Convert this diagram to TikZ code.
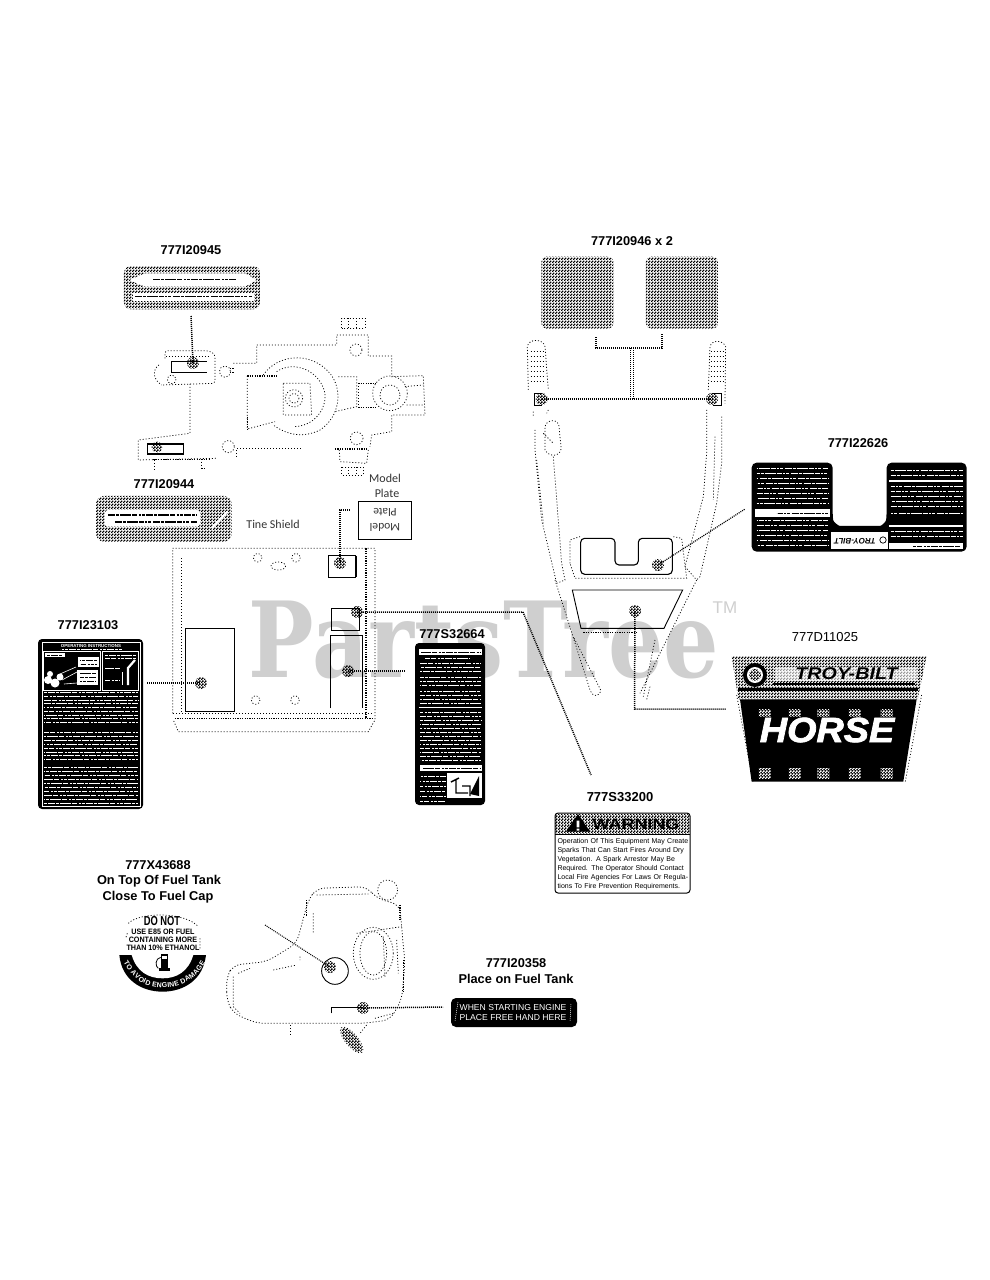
\documentclass[tikz,border=0pt]{standalone}
\usepackage{fontspec}
\setmainfont{Liberation Sans}
\newfontfamily\carl{Carlito}
\newfontfamily\wmfont{DejaVu Serif}
\newfontfamily\hvy[UprightFont=* Bold Italic,FakeBold=2]{Liberation Sans}
\usetikzlibrary{patterns,decorations.text}
\pgfdeclarepatternformonly{checker}{\pgfqpoint{0pt}{0pt}}{\pgfqpoint{3pt}{3pt}}{\pgfqpoint{3pt}{3pt}}{%
  \pgfpathrectangle{\pgfqpoint{0pt}{0pt}}{\pgfqpoint{1.75pt}{1.75pt}}%
  \pgfpathrectangle{\pgfqpoint{1.5pt}{1.5pt}}{\pgfqpoint{1.75pt}{1.75pt}}%
  \pgfusepath{fill}}
\newcommand{\greeklines}[4][greek]{% style, x1, x2, list of y
  \foreach \yy in {#4} {\pgfmathsetmacro{\ph}{mod(\yy*7,37)}\draw[#1,dash phase=\ph pt] (#2,\yy) -- (#3,\yy);}}
\tikzset{
  zA/.style={shift={(90pt,-230pt)},x=0.3333pt,y=-0.3333pt},
  zB/.style={shift={(30pt,-530pt)},x=0.3333pt,y=-0.3333pt},
  zC/.style={shift={(500pt,-230pt)},x=0.3333pt,y=-0.3333pt},
  zD/.style={shift={(540pt,-580pt)},x=0.3333pt,y=-0.3333pt},
  zE/.style={shift={(90pt,-850pt)},x=0.3333pt,y=-0.3333pt},
  partno/.style={font=\bfseries\fontsize{12.8}{14}\selectfont,inner sep=0pt},
  plainlab/.style={font=\carl\fontsize{12}{14}\selectfont,text=black!80,inner sep=0pt},
  hdot/.style={circle,minimum size=12pt,inner sep=0pt,pattern=checker},
  conn/.style={line width=1.5pt,dash pattern=on 1pt off 1pt},
  dline/.style={line width=0.75pt,dash pattern=on 1pt off 2pt},
  dthick/.style={line width=1.2pt,dash pattern=on 1.2pt off 1.2pt},
  solid1/.style={line width=0.9pt},
  greek/.style={white,line width=0.8pt,dash pattern=on 7pt off 1pt on 3pt off 1pt on 11pt off 1pt on 5pt off 1.5pt on 2pt off 1pt on 3pt off 1.5pt},
  greekk/.style={black,line width=0.9pt,dash pattern=on 7pt off 1pt on 3pt off 1pt on 11pt off 1pt on 5pt off 1.5pt on 2pt off 1pt on 3pt off 1.5pt},
}
\begin{document}
\begin{tikzpicture}[x=1pt,y=-1pt]
\useasboundingbox (0,0) rectangle (989,1280);
\fill[white] (0,0) rectangle (989,1280);
% watermark
\node[font=\wmfont\bfseries\fontsize{105}{105}\selectfont,text=black!19,inner sep=0pt,xscale=0.83] (wm) at (484,640) {PartsTree};
\node[font=\fontsize{17}{17}\selectfont,text=black!19,inner sep=0pt] (tm) at (725,608) {TM};

% ---------- 777I20945
\node[partno] (p45) at (191,250) {777I20945};
\begin{scope}[zA]
\fill[pattern=checker,rounded corners=7pt] (102,108) rectangle (510,238);
\fill[white] (118,150) -- (165,130) -- (465,130) -- (500,150) -- (465,170) -- (165,170) -- cycle;
\fill[white] (128,188) rectangle (492,212);
\draw[greekk,line width=1pt] (190,150) -- (440,150);
\draw[greekk,line width=1.6pt] (135,200) -- (485,200);
% left bracket
\draw[dline,rounded corners=3pt] (225,385) -- (225,362) -- (355,362) -- (375,372) -- (375,460) -- (215,465);
\draw[dline] (228,380) -- (358,380);
\draw[dline] (207,405) .. controls (185,420) and (190,450) .. (215,465);
\draw[dline] (245,448) circle (13);
\draw[solid1] (350,393) -- (245,393) -- (245,428) -- (350,428);
\draw[dline] (405,425) circle (17);
\draw[dthick] (420,415) -- (432,415) (420,428) -- (432,428);
% body outline
\draw[dline] (430,400) -- (500,400) -- (500,345) -- (740,345) -- (740,315) -- (835,315) -- (835,378) -- (905,378) -- (905,440) -- (1000,437) -- (1005,555) -- (905,555) -- (905,605) -- (845,615) -- (840,650);
\draw[dline] (755,295) -- (755,265) -- (825,265) -- (825,295) -- cycle;
\draw[dline] (775,265) -- (775,295) (800,265) -- (800,295);
\draw[dline] (798,360) circle (18);
\draw[dline] (300,462) -- (300,610) -- (145,630) -- (145,690) -- (380,685);
\draw[dthick] (190,688) -- (360,688);
\draw[line width=1.2pt] (280,642) -- (172,642) -- (172,672) -- (280,672) -- cycle;
\draw[line width=1.6pt] (172,642) -- (172,672) -- (200,672);
\draw[dline] (193,690) -- (193,720) (335,695) -- (335,715) -- (345,715);
\draw[dline] (415,650) circle (18);
\draw[dline] (440,680) -- (440,655) -- (640,655);
% main plate and arcs
\draw[dthick] (472,438) -- (560,438);
\draw[dline] (472,438) -- (472,597) -- (555,575);
\draw[dthick] (472,560) -- (472,597);
\draw[dline] (520,435) .. controls (560,375) and (660,360) .. (720,430) .. controls (760,480) and (750,560) .. (690,600) .. controls (640,625) and (590,615) .. (550,585);
\draw[dline] (560,425) .. controls (610,390) and (690,420) .. (705,490) .. controls (710,540) and (670,590) .. (610,590);
\draw[dline] (580,460) -- (660,460) -- (665,555) -- (580,555) -- cycle;
\draw[dline] (612,505) circle (26);
\draw[dline] (612,505) circle (15);
\draw[dline] (745,440) -- (800,440) -- (800,530) -- (735,545);
\draw[dthick] (805,460) -- (860,460) (805,532) -- (860,532);
\draw[dline] (805,460) -- (805,532);
\draw[dline] (900,490) circle (52);
\draw[dline] (900,495) circle (30);
\draw[dline] (945,470) -- (1000,465) (950,525) -- (1000,525);
\draw[dline] (800,625) circle (19);
\draw[dthick] (735,657) -- (835,657);
\draw[dline] (748,660) -- (750,695) -- (830,700) -- (835,660);
\draw[dline] (755,712) rectangle (820,735);
\draw[dline] (775,712) -- (775,735) (800,712) -- (800,735);
% 777I20944 label
\fill[pattern=checker,rounded corners=8pt] (18,798) rectangle (425,935);
\fill[white,rounded corners=3pt] (45,840) rectangle (330,890);
\draw[greekk,line width=2pt] (55,855) -- (320,855);
\draw[greekk,line width=2pt] (75,875) -- (320,875);
\draw[white,line width=2pt] (365,895) -- (412,845);
\end{scope}
\node[hdot] (d45) at (193,363) {};
\coordinate (e45) at (191,316);
\draw[conn] (e45) -- (d45.center);
\node[hdot,minimum size=11pt] (d45b) at (157,447) {};
\node[partno] (p44) at (164,484) {777I20944};
\node[plainlab] (tine) at (273,524) {Tine Shield};
\node[plainlab] (mp1) at (385,478) {Model};
\node[plainlab] (mp2) at (387,493) {Plate};
\node[draw=black,line width=0.8pt,minimum width=53pt,minimum height=38pt,inner sep=0pt] (mbox) at (385,520) {};
\node[plainlab,rotate=180,align=center,font=\carl\fontsize{11.5}{15}\selectfont] (mtxt) at (385,520) {Model\\Plate};

% ---------- Tine shield
\begin{scope}[zB]
\draw[dline] (428,550) -- (428,55) -- (1035,55) -- (1035,570) -- (1015,605) -- (445,605) -- (430,570);
\draw[dline] (455,85) -- (455,550);
\draw[dthick] (1008,55) -- (1008,565);
\draw[dthick] (435,565) -- (1030,565);
\draw[dline] (430,550) -- (1030,550);
\foreach \bx/\by in {683/83,798/83,677/510,795/510} {\draw[dline] (\bx,\by) circle (13);}
\draw[dline] (745,108) ellipse (22 and 12);
\draw[solid1] (978,77) -- (895,77) -- (895,142) -- (978,142);
\draw[line width=1.3pt] (978,77) -- (978,142);
\draw[solid1] (905,235) rectangle (988,300);
\draw[line width=1.5pt] (905,235) -- (965,235);
\draw[solid1] (901,535) -- (901,317) -- (998,317);
\draw[line width=1.5pt] (998,317) -- (998,535);
\draw[solid1] (467,295) rectangle (613,545);
\end{scope}
\node[hdot] (dmp) at (340,563) {};
\coordinate (emp) at (350,510);
\draw[conn] (dmp.center) -- (340,510) -- (emp);
\node[hdot] (d103) at (201,683) {};
\coordinate (e103) at (147,683);
\draw[conn] (e103) -- (d103.center);
\node[hdot] (d664) at (348,671) {};
\coordinate (e664) at (406,671);
\draw[conn] (d664.center) -- (e664);
\node[hdot] (d200) at (357,612) {};
\coordinate (e200) at (591,775);
\draw[conn] (d200.center) -- (523,612) -- (e200);

% ---------- 777I23103
\node[partno] (p03) at (88,625) {777I23103};
\node[fill=black,rounded corners=4pt,minimum width=105pt,minimum height=170pt,inner sep=0pt] (l03) at (90.5,724) {};
\draw[white,line width=0.7pt] (42.5,642.5) rectangle (140,806.5);
\node[text=white,font=\bfseries\fontsize{4.4}{5}\selectfont,inner sep=0pt] (l03t) at (91,645.5) {OPERATING INSTRUCTIONS};
\greeklines[greek,line width=0.5pt]{60}{122}{649}
\draw[white,line width=0.7pt] (43.3,651.7) rectangle (100.7,690);
\draw[white,line width=0.7pt] (102.3,651.7) rectangle (138.3,690);
\fill[white] (45,653) rectangle (65,657);
\greeklines[greekk,line width=0.7pt]{47}{63}{655}
\fill[white] (77.7,656.7) rectangle (99,666.7);
\greeklines[greekk,line width=0.7pt]{80}{97}{660,664}
\fill[white] (48,680) circle (4pt) (55,683) circle (4.5pt) (60,677) circle (3.5pt) (50,674) circle (3pt);
\fill[white] (76.7,670) rectangle (98.3,685);
\greeklines[greekk,line width=0.7pt]{80}{96}{673,677,681}
\draw[white,line width=0.6pt] (60,674) -- (76,667) (62,680) -- (77,672) (64,684) -- (77,683);
\greeklines[greek,line width=0.6pt]{105}{136}{655,658}
\draw[white,line width=2.2pt] (128,685) -- (128,668) -- (135,660);
\draw[white,line width=0.8pt] (122,672) -- (122,685);
\greeklines[greek,line width=0.6pt]{105}{120}{668,680}
\greeklines{44}{138}{692,696,700,703,707,711,715,718,722,732,736,740,744,748,752,755,759,767,771,775,779,783,787,791,795,799,803}

% ---------- 777S32664
\node[partno] (p64) at (452,634) {777S32664};
\node[fill=black,rounded corners=4pt,minimum width=70pt,minimum height=162pt,inner sep=0pt] (l64) at (450,724) {};
\fill[white] (419,649) rectangle (482,655);
\greeklines[greekk]{421}{480}{652}
\greeklines{425}{470}{658}
\greeklines{420}{481}{663,667,671,677,681,685,691,695,699,703,712,716,720,724,728,732,736,740,744,748,752,756,760}
\draw[white,line width=0.8pt] (419,707) -- (482,707);
\fill[white] (420,765) rectangle (482,771);
\greeklines[greekk]{422}{480}{768}
\greeklines{420}{446}{776,781,786,791,796,801}
\fill[white] (447,773) rectangle (482,798);
\draw[black,line width=1.4pt] (451,782) -- (459,778) (456,780) -- (456,793) -- (468,793) (462,786) -- (470,786) -- (470,796);
\fill[black] (479,776) -- (470,794) -- (479,796) -- cycle;

% ---------- Handle frame
\begin{scope}[zC]
\draw[dline] (85,480) -- (82,350) .. controls (85,325) and (130,325) .. (135,350) -- (145,480);
\draw[dline] (625,480) -- (630,350) .. controls (635,328) and (670,330) .. (677,350) -- (675,520);
\foreach \yy in {365,380,395,410,425,440,455} {
  \draw[dline] (92,\yy) -- (135,\yy);
  \draw[dline] (632,\yy) -- (672,\yy);}
\draw[solid1] (125,490) -- (103,490) -- (103,525) -- (125,525);
\draw[solid1] (640,490) -- (665,490) -- (665,525) -- (640,525);
\draw[dline] (100,545) -- (100,560) (145,540) -- (140,550);
\draw[dline,rounded corners=6pt] (135,660) -- (135,575) -- (175,570) -- (185,670) -- (150,680) -- (135,660);
\draw[dline] (105,600) -- (105,660) -- (125,870) -- (170,1060);
\draw[dline] (110,690) -- (130,880) (160,680) -- (185,1000) -- (195,1050) -- (170,1060);
\draw[dline] (130,610) -- (160,640);
\draw[dline] (620,540) -- (620,670) -- (610,800) -- (555,1010) -- (590,1050);
\draw[dline] (665,560) -- (665,700) -- (650,820) -- (600,1040) -- (590,1050);
\draw[dline] (645,620) -- (640,810);
\draw[dline] (210,1000) -- (210,930) -- (240,920) (520,920) -- (545,925) -- (560,1045) -- (225,1045) -- (210,1000);
\draw[line width=1.1pt,rounded corners=4pt] (242,925) -- (345,925) -- (345,1005) -- (415,1005) -- (415,925) -- (517,925) -- (517,1033) -- (242,1033) -- cycle;
\fill[pattern=checker,rounded corners=5pt] (124,80) rectangle (340,296);
\fill[pattern=checker,rounded corners=5pt] (438,80) rectangle (654,296);
\end{scope}
\node[partno] (p46) at (632,241) {777I20946 x 2};
\node[hdot] (d46a) at (541.7,399) {};
\node[hdot] (d46b) at (712,399) {};
\coordinate (e46a) at (596,337);
\coordinate (e46b) at (662,333);
\draw[conn] (e46a) -- (596,348) -- (662,348) -- (e46b);
\draw[conn] (d46a.center) -- (d46b.center);
\draw[conn] (630.5,348) -- (630.5,399) (633.5,348) -- (633.5,399);
\node[hdot] (d626) at (658,565) {};
\coordinate (e626) at (745,509);
\draw[conn,line width=1.2pt] (d626.center) -- (e626);

% ---------- 777I22626
\node[partno] (p26) at (858,443) {777I22626};
\begin{scope}[zC]
\fill[black,rounded corners=5pt] (755,698) -- (998,698) -- (998,855) .. controls (1000,875) and (1015,888) .. (1035,888) -- (1125,888) .. controls (1145,888) and (1158,875) .. (1160,855) -- (1160,698) -- (1400,698) -- (1400,965) -- (755,965) -- cycle;
\fill[white] (765,838) rectangle (990,860);
\fill[white] (993,905) rectangle (1165,958);
\greeklines[greekk,line width=0.7pt]{830}{985}{849}
\fill[white] (1168,750) rectangle (1390,756);
\greeklines[greek,line width=0.9pt]{1172}{1390}{720,735,770,785,800,815,830,850}
\greeklines[greek,line width=0.9pt]{770}{985}{715,730,745,760,775,790,805,820,870,885,900,915,930,945}
\greeklines[greek,line width=0.9pt]{1172}{1390}{905,920}
\fill[white] (1168,885) rectangle (1390,890);
\fill[white] (1168,938) rectangle (1390,958);
\greeklines[greekk,line width=0.7pt]{1240}{1385}{949}
\end{scope}
\node[rotate=180,font=\bfseries\itshape\fontsize{8}{8}\selectfont,inner sep=0pt] (t26) at (855,541) {TROY-BILT};
\draw[line width=0.7pt] (883,540) circle (3.2pt);

% ---------- 777D11025
\node[font=\fontsize{13}{14}\selectfont,inner sep=0pt] (p25) at (825,637) {777D11025};
\begin{scope}[zD]
\fill[pattern=checker] (575,228) -- (1160,228) -- (1133,358) -- (595,358) -- cycle;
\fill[white,opacity=0.6] (705,262) rectangle (1130,302);
\fill[black] (600,358) -- (1130,358) -- (1090,605) -- (635,605) -- cycle;
\fill[black] (595,325) rectangle (1135,332);
\draw[dline] (590,345) -- (640,610) (1145,345) -- (1095,610);
\draw[black,line width=1.6pt] (700,312) -- (1125,312);
\fill[black] (645,285) circle (12pt);
\fill[white] (645,285) circle (8pt);
\fill[pattern=checker] (645,285) circle (6pt);
\foreach \xx in {675,765,850,945,1040} {
  \fill[pattern=checker,pattern color=white] (\xx-18,388) rectangle (\xx+18,410);
  \fill[pattern=checker,pattern color=white] (\xx-18,565) rectangle (\xx+18,595);}
\end{scope}
\node[font=\bfseries\itshape\fontsize{17}{17}\selectfont,inner sep=0pt,xscale=1.16] (tb) at (846.5,674) {TROY-BILT};
\node[font=\hvy\fontsize{35}{35}\selectfont,text=white,inner sep=0pt,xscale=1.08] (hs) at (827,730) {HORSE};
\node[hdot] (d25) at (635,611) {};
\coordinate (e25) at (726,709);
\draw[conn] (d25.center) -- (634.5,709) -- (e25);
\begin{scope}[zD]
\draw[solid1] (97,30) -- (428,30) -- (372,145) -- (123,145) -- cycle;
\draw[dthick] (130,158) -- (290,158);
\draw[dline] (45,0) -- (150,330) .. controls (160,355) and (180,350) .. (182,330) -- (100,170);
\draw[dline] (470,0) -- (300,340);
\draw[dline] (345,180) -- (310,350) (330,320) -- (320,360);
\end{scope}

% ---------- Warning label
\node[partno,font=\bfseries\fontsize{13}{14}\selectfont] (p00) at (620,797) {777S33200};
\node[draw=black,line width=1pt,rounded corners=3pt,minimum width=135pt,minimum height=80pt,inner sep=0pt] (l00) at (622.5,853) {};
\begin{scope}[zD]
\fill[pattern=checker,rounded corners=3pt] (45,702) rectangle (450,762);
\draw[line width=0.8pt] (45,762) -- (450,762);
\fill[black] (78,755) -- (114,702) -- (150,755) -- cycle;
\fill[white] (110,722) rectangle (118,742) (110,746) rectangle (118,752);
\end{scope}
\node[font=\bfseries\fontsize{15}{15}\selectfont,inner sep=0pt,xscale=1.2] (warn) at (636,824) {WARNING};
\node[font=\fontsize{7}{9.1}\selectfont,inner sep=0pt,align=left,text width=130pt] (wtxt) at (622.5,864) {\makebox[130pt][s]{Operation Of This Equipment May Create}\\\makebox[130pt][s]{Sparks That Can Start Fires Around Dry}\\\makebox[130pt][s]{Vegetation. A Spark Arrestor May Be}\\\makebox[130pt][s]{Required. The Operator Should Contact}\\\makebox[130pt][s]{Local Fire Agencies For Laws Or Regula-}\\tions To Fire Prevention Requirements.};

% ---------- Fuel tank
\begin{scope}[zE]
\draw[dline,rounded corners=8pt] (410,450) -- (410,380) -- (430,345) -- (530,335) -- (620,280) -- (655,150) -- (680,115) -- (830,110) -- (860,145) -- (930,165) -- (935,230) -- (945,340) -- (935,450) -- (900,510) -- (820,520) -- (500,520) -- (430,490) -- cycle;
\draw[dline] (680,135) -- (835,132);
\draw[dthick] (650,150) -- (650,200) (930,165) -- (930,210) (940,330) -- (940,430);
\draw[dline] (430,380) -- (430,470) -- (450,490) (445,370) -- (480,355);
\draw[dline] (550,360) -- (620,345) (670,190) -- (670,250) (630,320) -- (630,330);
\draw[dline] (893,120) circle (30);
\draw[dline] (850,310) ellipse (60 and 78);
\draw[dline] (850,310) ellipse (40 and 65);
\draw[dline] (880,260) -- (885,380) (920,270) -- (925,370);
\draw[dline] (800,250) -- (935,230);
\draw[dline] (600,525) -- (600,560);
\draw[dline] (855,505) -- (910,490);
\draw[dline] (830,525) -- (810,550);
\fill[pattern=checker,rotate around={-50:(785,570)}] (785,570) ellipse (45 and 16);
\draw[dline,rotate around={-50:(785,570)}] (785,570) ellipse (48 and 18);
\draw[solid1] (735,363) circle (40);
\draw[solid1] (725,490) -- (725,472) -- (820,472);
\end{scope}
\node[hdot] (dx) at (330,967) {};
\coordinate (ex) at (265,925);
\draw[conn,line width=1pt] (ex) -- (dx.center);
\node[hdot] (d58) at (363,1008) {};
\coordinate (e58) at (443,1007);
\draw[conn] (d58.center) -- (e58);

% ---------- 777X43688
\node[partno] (px) at (158,865) {777X43688};
\node[partno] (px2) at (159,881) {On Top Of Fuel Tank};
\node[partno] (px3) at (158,897) {Close To Fuel Cap};
\node[font=\bfseries\fontsize{13}{13}\selectfont,inner sep=0pt,xscale=0.72] (dn) at (162,921) {DO NOT};
\node[font=\bfseries\fontsize{7.8}{7.9}\selectfont,inner sep=0pt,align=center,xscale=0.92] (dn2) at (163,939.5) {USE E85 OR FUEL\\CONTAINING MORE\\THAN 10\% ETHANOL};
\begin{scope}[zE]
\fill[black] (88,315) -- (348,315) .. controls (340,390) and (280,425) .. (218,425) .. controls (155,425) and (95,390) .. (88,315) -- cycle;
\fill[white] (125,315) -- (310,315) .. controls (295,365) and (260,385) .. (218,385) .. controls (175,385) and (140,365) .. (125,315) -- cycle;
\fill[black] (212,312) rectangle (234,358);
\fill[white] (216,317) rectangle (230,328);
\draw[line width=0.8pt] (212,322) .. controls (195,325) and (195,350) .. (205,355);
\fill[black] (206,355) rectangle (240,362);
\draw[dline] (115,220) .. controls (150,185) and (285,185) .. (325,230);
\draw[dline] (112,250) -- (108,262) (330,265) -- (330,300);
\end{scope}
\path[decorate,decoration={text along path,text align=center,raise=-2.4pt,text={|\bfseries\fontsize{7}{7}\selectfont\color{white}|TO AVOID ENGINE DAMAGE}}] (125,960) .. controls (134,977) and (145,985) .. (163,985) .. controls (181,985) and (195,977) .. (204,960);

% ---------- 777I20358
\node[partno] (p58) at (516,963) {777I20358};
\node[partno] (p58b) at (516,979) {Place on Fuel Tank};
\node[fill=black,rounded corners=5pt,minimum width=126pt,minimum height=29pt,inner sep=0pt] (l58) at (514,1012.5) {};
\draw[white,line width=0.5pt,dash pattern=on 1pt off 1pt] (458,1002) -- (455,1021) (571,1004) -- (570,1021);
\node[text=white,font=\fontsize{8.6}{10}\selectfont,inner sep=0pt,align=center] (t58) at (513,1012.5) {WHEN STARTING ENGINE\\PLACE FREE HAND HERE};
\end{tikzpicture}
\end{document}
